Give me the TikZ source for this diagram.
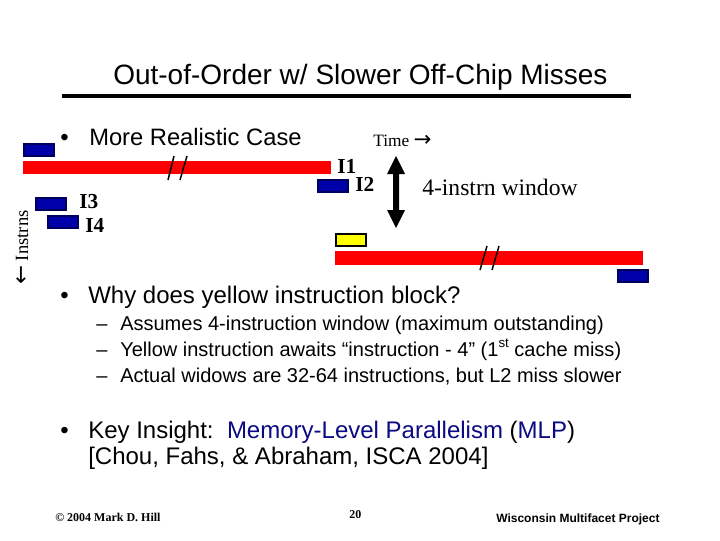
\documentclass[tikz,border=0pt]{standalone}
\usepackage{fontspec}
\setmainfont{Liberation Serif}
\setsansfont{Liberation Sans}
\newfontfamily\symfont{DejaVu Sans}
\definecolor{barred}{RGB}{255,0,0}
\definecolor{barblue}{RGB}{0,0,170}
\definecolor{baredge}{RGB}{0,0,90}
\definecolor{baryellow}{RGB}{255,255,0}
\definecolor{linkblue}{RGB}{10,10,130}
\tikzset{
  redbar/.style={fill=barred,draw=none},
  bluebar/.style={fill=barblue,draw=baredge,line width=1.2pt},
  yellowbar/.style={fill=baryellow,draw=black,line width=1.1pt},
  slash/.style={draw=black,line width=1.1pt},
  sans/.style={inner sep=0pt,anchor=base west,font=\sffamily},
  serif/.style={inner sep=0pt,anchor=base west,font=\rmfamily},
  serifb/.style={inner sep=0pt,anchor=base west,font=\rmfamily\bfseries},
}
\newcommand{\fs}[1]{\fontsize{#1}{#1}\selectfont}
\begin{document}
\begin{tikzpicture}[x=0.75pt,y=-0.75pt]
\useasboundingbox (0,0) rectangle (720,540);
\fill[white] (0,0) rectangle (720,540);
% title
\node[sans] (title) at (113,84) {\fs{21}Out-of-Order w/ Slower Off-Chip Misses};
\fill[black] (62,94) rectangle (631,98);
% first block
\node[sans] (b1) at (60,145) {\fs{18}•};
\node[sans] (t1) at (89,145) {\fs{17.8}More Realistic Case};
\node[serif] (time) at (373,146) {\fs{13}Time {\symfont\fs{16}→}};
% bars
\path[redbar] (23,161) rectangle (331,174);
\path[bluebar] (24,144) rectangle (54,156);
\path[bluebar] (318,180) rectangle (348,192);
\path[bluebar] (36,198) rectangle (66,210);
\path[bluebar] (48,216) rectangle (78,228);
\path[yellowbar] (336,234) rectangle (366,246);
\path[redbar] (335,251) rectangle (643,265);
\path[bluebar] (618,270) rectangle (648,282);
% slashes
\path[slash] (168,180) -- (174,156);
\path[slash] (180,180) -- (187,156);
\path[slash] (480,270) -- (487,246);
\path[slash] (492,270) -- (499,246);
% instr labels
\node[serifb] (i1) at (337,173) {\fs{16}I1};
\node[serifb] (i2) at (355,191) {\fs{16}I2};
\node[serifb] (i3) at (79,208) {\fs{16}I3};
\node[serifb] (i4) at (85,232) {\fs{16}I4};
\node[serif] (win) at (422,195) {\fs{17.7}4-instrn window};
\node[serif,rotate=90] (instr) at (28,285) {\fs{14}{\symfont\fs{17}←} Instrns};
% double arrow
\fill[black] (396,156) -- (405,174) -- (399,174) -- (399,210) -- (405,210) -- (396,228) -- (387,210) -- (393,210) -- (393,174) -- (387,174) -- cycle;
% why block
\node[sans] (b2) at (60,303) {\fs{18}•};
\node[sans] (t2) at (88,303) {\fs{18}Why does yellow instruction block?};
\node[sans] (d1) at (96,330) {\fs{15}–};
\node[sans] (s1) at (120,330) {\fs{15}Assumes 4-instruction window (maximum outstanding)};
\node[sans] (d2) at (96,356) {\fs{15}–};
\node[sans] (s2) at (120,356) {\fs{15}Yellow instruction awaits “instruction - 4” (1\raisebox{0.45em}{\fs{10}st} cache miss)};
\node[sans] (d3) at (96,382) {\fs{15}–};
\node[sans] (s3) at (120,382) {\fs{15}Actual widows are 32-64 instructions, but L2 miss slower};
% key insight
\node[sans] (b3) at (60,438) {\fs{18}•};
\node[sans] (k1) at (88,438) {\fs{18}Key Insight:\ \ \textcolor{linkblue}{Memory-Level Parallelism} (\textcolor{linkblue}{MLP})};
\node[sans] (k2) at (88,464) {\fs{18}[Chou, Fahs, \& Abraham, ISCA 2004]};
% footer
\node[serifb] (f1) at (55,521) {\fs{9}© 2004 Mark D. Hill};
\node[serifb] (f2) at (349,518) {\fs{9}20};
\node[sans,font=\sffamily\bfseries] (f3) at (496,522) {\fs{9}Wisconsin Multifacet Project};
\end{tikzpicture}
\end{document}
